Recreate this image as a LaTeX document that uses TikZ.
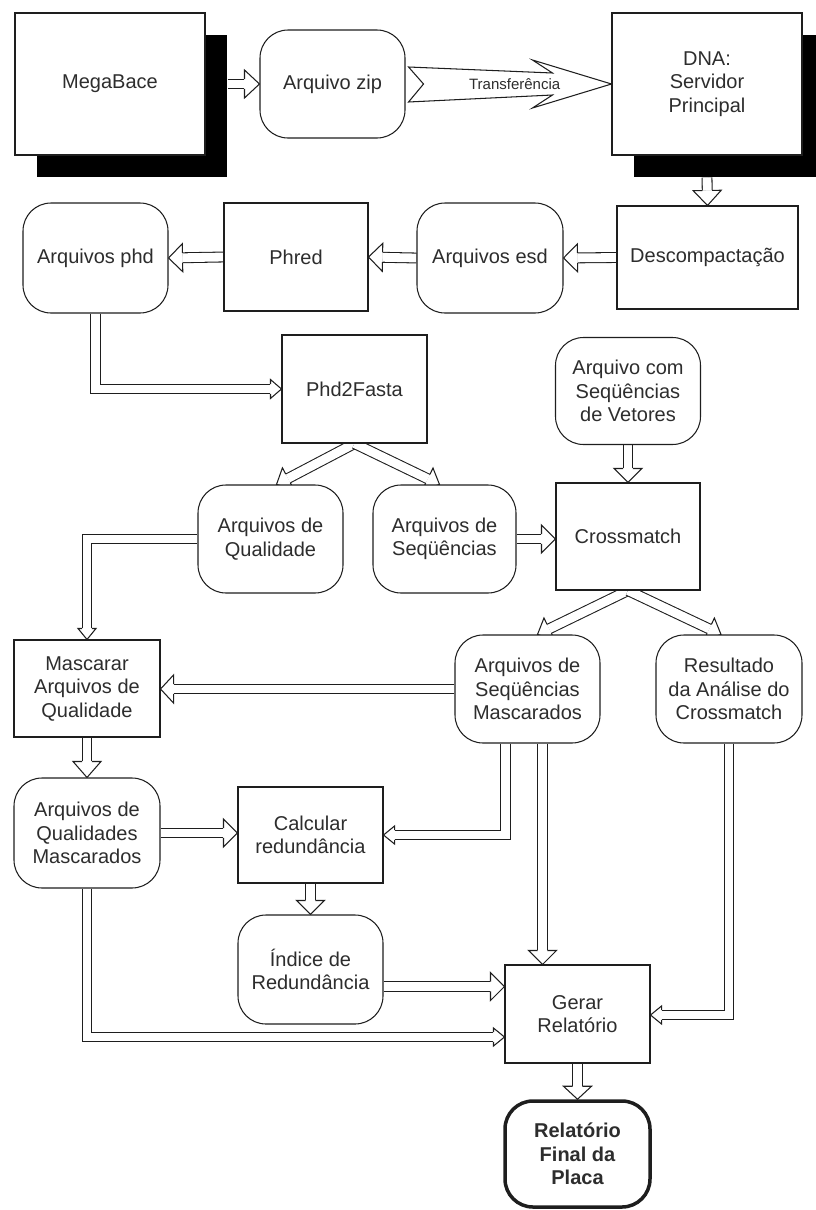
\documentclass[tikz,border=0pt]{standalone}
\usepackage{fontspec}
\setmainfont{Liberation Sans}
\usetikzlibrary{calc,shadows}
\definecolor{lc}{RGB}{30,30,30}
\definecolor{tc}{RGB}{45,45,45}
\pgfdeclarelayer{bg}
\pgfsetlayers{bg,main}
\tikzset{
  base/.style={draw=lc, line width=1.05pt, fill=white, inner sep=0pt, align=center,
    text=tc, font=\fontsize{20}{23.5}\selectfont},
  proc/.style={base},
  file/.style={base, rounded corners=28pt},
  sz/.style 2 args={minimum width=#1pt, minimum height=#2pt},
  shadowed/.style={drop shadow={fill=black, opacity=1, shadow xshift=22pt, shadow yshift=-22pt}},
  shaft/.style={draw=lc, line width=1.05pt, double=white, double distance=8.8pt, line join=miter},
  headline/.style={draw=lc, line width=1.05pt, line join=miter},
}
% Block arrow: #1 shaft path up to its last corner, #2 that corner, #3 tip,
% #4 half width of the head, #5 head length
\newcommand\harrow[5]{%
  \draw[shaft] #1 -- ($(#3)!#5!(#2)$);
  \coordinate (hb) at ($(#3)!#5!(#2)$);
  \fill[white] ($(hb)!4.5pt!90:(#3)$) -- ($(hb)!#4!90:(#3)$) -- (#3)
     -- ($(hb)!#4!-90:(#3)$) -- ($(hb)!4.5pt!-90:(#3)$) -- cycle;
  \draw[headline] ($(hb)!4.9pt!90:(#3)$) -- ($(hb)!#4!90:(#3)$) -- (#3)
     -- ($(hb)!#4!-90:(#3)$) -- ($(hb)!4.9pt!-90:(#3)$);
}
\begin{document}
\begin{tikzpicture}[x=1pt,y=-1pt]
\useasboundingbox (0,0) rectangle (815,1210);

% process boxes and files
\node[proc, shadowed, sz={190}{142}] (mega) at (110,84) {MegaBace};
\node[file, sz={145}{108}] (zip) at (332.5,84) {Arquivo zip};
\node[proc, shadowed, sz={190}{142}] (dna) at (707,84) {DNA:\\Servidor\\Principal};
\node[proc, sz={181}{103}] (desc) at (707.5,257.5) {Descompactação};
\node[file, sz={146}{110}] (esd) at (490,258) {Arquivos esd};
\node[proc, sz={144}{108}] (phred) at (296,257) {Phred};
\node[file, sz={145}{110}] (phd) at (95.5,258) {Arquivos phd};
\node[proc, sz={145}{108}] (p2f) at (354.5,389) {Phd2Fasta};
\node[file, sz={145}{107}] (vet) at (628,391) {Arquivo com\\Seqüências\\de Vetores};
\node[proc, sz={144}{107}] (cross) at (628,536.5) {Crossmatch};
\node[file, sz={145}{108}] (qual) at (270.5,539) {Arquivos de\\Qualidade};
\node[file, sz={143}{108}] (seq) at (444.5,539) {Arquivos de\\Seqüências};
\node[proc, sz={146}{97}] (masc) at (87,688.5) {Mascarar\\Arquivos de\\Qualidade};
\node[file, sz={145}{108}] (seqm) at (527.5,689) {Arquivos de\\Seqüências\\Mascarados};
\node[file, sz={146}{108}] (res) at (729,689) {Resultado\\da Análise do\\Crossmatch};
\node[file, sz={146}{110}] (qualm) at (87,833) {Arquivos de\\Qualidades\\Mascarados};
\node[proc, sz={145}{96}] (redund) at (310.5,835) {Calcular\\redundância};
\node[file, sz={145}{109}] (ind) at (310.5,969.5) {Índice de\\Redundância};
\node[proc, sz={145}{98}] (gerar) at (577.5,1014) {Gerar\\Relatório};
\node[file, line width=3.5pt, sz={145}{106}, font=\fontsize{20}{23.5}\selectfont\bfseries]
  (final) at (577.5,1154) {Relatório\\Final da\\Placa};

\begin{pgfonlayer}{bg}
% transfer arrow
\draw[headline, fill=white] ($(zip.east)+(3,-17)$) -- ($(dna.west)+(-59,-11)$)
  -- ($(dna.west)+(-79,-24)$) -- (dna.west) -- ($(dna.west)+(-79,24)$)
  -- ($(dna.west)+(-59,11)$) -- ($(zip.east)+(3,18)$) -- ($(zip.east)+(18,0)$) -- cycle;

\coordinate (m1) at ($(mega.east)+(22,0)$);
\harrow{(m1)}{m1}{zip.west}{14pt}{15pt}
\coordinate (d1) at ($(dna.south)+(0,22)$);
\harrow{(d1)}{d1}{desc.north}{14pt}{15pt}
\harrow{(desc.west)}{desc.west}{esd.east}{14pt}{14pt}
\harrow{(esd.west)}{esd.west}{phred.east}{14pt}{14pt}
\harrow{(phred.west)}{phred.west}{phd.east}{14pt}{14pt}
\harrow{(phd.south) -- (phd.south |- p2f.west)}{phd.south |- p2f.west}{p2f.west}{9.5pt}{11pt}

\coordinate (q1) at ($(qual.north)+(6,0)$);
\coordinate (s1) at ($(seq.north)+(-5,0)$);
\harrow{(p2f.south)}{p2f.south}{q1}{12pt}{13pt}
\harrow{(p2f.south)}{p2f.south}{s1}{12pt}{13pt}
\harrow{(vet.south)}{vet.south}{cross.north}{14pt}{14pt}
\harrow{(seq.east)}{seq.east}{cross.west |- seq.east}{14pt}{14pt}
\harrow{(qual.west) -- (qual.west -| masc.north)}{qual.west -| masc.north}{masc.north}{9pt}{11pt}

\coordinate (c1) at ($(seqm.north)+(10,0)$);
\coordinate (c2) at ($(res.north)+(-8,0)$);
\harrow{(cross.south)}{cross.south}{c1}{12pt}{13pt}
\harrow{(cross.south)}{cross.south}{c2}{12pt}{13pt}
\harrow{(seqm.west)}{seqm.west}{masc.east |- seqm.west}{14pt}{13pt}
\harrow{(masc.south)}{masc.south}{qualm.north}{14pt}{16pt}
\harrow{(qualm.east)}{qualm.east}{redund.west |- qualm.east}{14pt}{14pt}

\coordinate (sm1) at ($(seqm.south)+(-22,0)$);
\coordinate (sm2) at ($(seqm.south)+(15,0)$);
\harrow{(sm1) -- (sm1 |- redund.east)}{sm1 |- redund.east}{redund.east}{9pt}{11pt}
\harrow{(sm2)}{sm2}{sm2 |- gerar.north}{14pt}{14pt}
\harrow{(redund.south)}{redund.south}{ind.north}{14pt}{14pt}

\coordinate (i1) at ($(ind.east)+(0,17)$);
\harrow{(i1)}{i1}{i1 -| gerar.west}{14pt}{14pt}
\coordinate (g1) at ($(gerar.west)+(0,23)$);
\harrow{(qualm.south) -- (qualm.south |- g1)}{qualm.south |- g1}{g1}{9pt}{11pt}
\coordinate (g2) at ($(gerar.east)+(0,1)$);
\harrow{(res.south) -- (res.south |- g2)}{res.south |- g2}{g2}{9pt}{11pt}
\harrow{(gerar.south)}{gerar.south}{final.north}{14pt}{13pt}
\end{pgfonlayer}

\node[font=\fontsize{15}{18}\selectfont, text=tc] (tlabel)
  at ($(zip.east)!0.53!(dna.west)$) {Transferência};
\end{tikzpicture}
\end{document}
